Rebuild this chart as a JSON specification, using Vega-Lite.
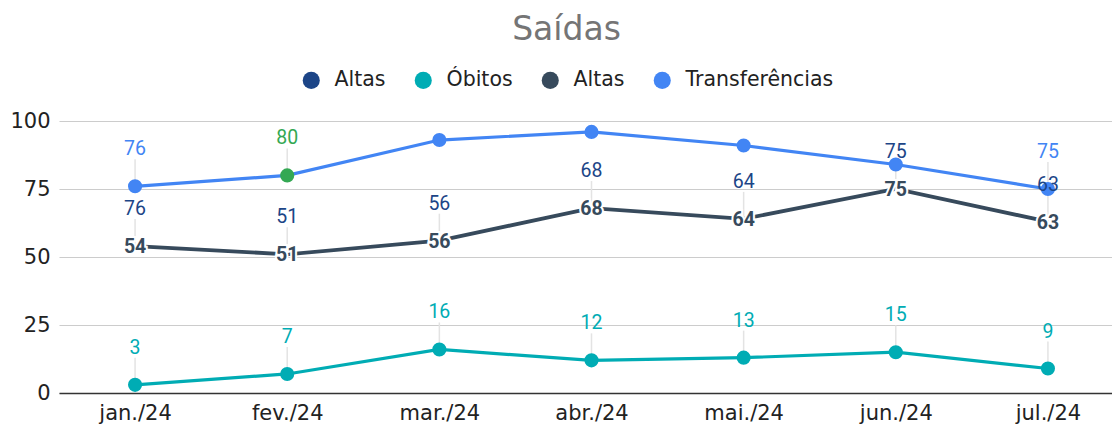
{
  "$schema": "https://vega.github.io/schema/vega-lite/v6.json",
  "width": 1065,
  "height": 272,
  "autosize": {"type": "none"},
  "padding": {"left": 59, "top": 121, "right": 0, "bottom": 34},
  "background": "white",
  "title": {"text": "Saídas", "fontSize": 33, "color": "#757575", "font": "DejaVu Sans", "fontWeight": "normal", "anchor": "middle", "offset": 23, "dx": -25},
  "config": {"view": {"stroke": null}, "font": "DejaVu Sans"},
  "data": {"values": [
    {"mes": "jan./24", "serie": "Transferências", "valor": 76, "rotulo": 76},
    {"mes": "fev./24", "serie": "Transferências", "valor": 80, "rotulo": 80},
    {"mes": "mar./24", "serie": "Transferências", "valor": 93, "rotulo": 93},
    {"mes": "abr./24", "serie": "Transferências", "valor": 96, "rotulo": 96},
    {"mes": "mai./24", "serie": "Transferências", "valor": 91, "rotulo": 91},
    {"mes": "jun./24", "serie": "Transferências", "valor": 84, "rotulo": 84},
    {"mes": "jul./24", "serie": "Transferências", "valor": 75, "rotulo": 75},
    {"mes": "jan./24", "serie": "Altas 2", "valor": 54, "rotulo": 54},
    {"mes": "fev./24", "serie": "Altas 2", "valor": 51, "rotulo": 51},
    {"mes": "mar./24", "serie": "Altas 2", "valor": 56, "rotulo": 56},
    {"mes": "abr./24", "serie": "Altas 2", "valor": 68, "rotulo": 68},
    {"mes": "mai./24", "serie": "Altas 2", "valor": 64, "rotulo": 64},
    {"mes": "jun./24", "serie": "Altas 2", "valor": 75, "rotulo": 75},
    {"mes": "jul./24", "serie": "Altas 2", "valor": 63, "rotulo": 63},
    {"mes": "jan./24", "serie": "Altas", "valor": 54, "rotulo": 76},
    {"mes": "fev./24", "serie": "Altas", "valor": 51, "rotulo": 51},
    {"mes": "mar./24", "serie": "Altas", "valor": 56, "rotulo": 56},
    {"mes": "abr./24", "serie": "Altas", "valor": 68, "rotulo": 68},
    {"mes": "mai./24", "serie": "Altas", "valor": 64, "rotulo": 64},
    {"mes": "jun./24", "serie": "Altas", "valor": 75, "rotulo": 75},
    {"mes": "jul./24", "serie": "Altas", "valor": 63, "rotulo": 63},
    {"mes": "jan./24", "serie": "Óbitos", "valor": 3, "rotulo": 3},
    {"mes": "fev./24", "serie": "Óbitos", "valor": 7, "rotulo": 7},
    {"mes": "mar./24", "serie": "Óbitos", "valor": 16, "rotulo": 16},
    {"mes": "abr./24", "serie": "Óbitos", "valor": 12, "rotulo": 12},
    {"mes": "mai./24", "serie": "Óbitos", "valor": 13, "rotulo": 13},
    {"mes": "jun./24", "serie": "Óbitos", "valor": 15, "rotulo": 15},
    {"mes": "jul./24", "serie": "Óbitos", "valor": 9, "rotulo": 9}
  ]},
  "encoding": {
    "x": {
      "field": "mes", "type": "ordinal",
      "sort": ["jan./24", "fev./24", "mar./24", "abr./24", "mai./24", "jun./24", "jul./24"],
      "scale": {"type": "point", "padding": 0.5},
      "axis": {"title": null, "labelAngle": 0, "labelFontSize": 21, "labelFont": "DejaVu Sans", "labelColor": "#222222", "ticks": false, "labelPadding": 9, "domain": true, "domainColor": "#333333", "domainWidth": 1.5, "grid": false}
    },
    "y": {
      "field": "valor", "type": "quantitative",
      "scale": {"domain": [0, 100]},
      "axis": {"title": null, "values": [0, 25, 50, 75, 100], "labelFontSize": 21, "labelFont": "DejaVu Sans", "labelColor": "#222222", "ticks": false, "domain": false, "labelPadding": 9, "gridColor": "#cccccc", "gridWidth": 1.2}
    }
  },
  "layer": [
    {
      "transform": [{"filter": "datum.serie == 'Óbitos' || datum.serie == 'Altas' || (datum.serie == 'Transferências' && indexof(['jan./24','fev./24','jul./24'], datum.mes) >= 0)"}],
      "mark": {"type": "rule", "y2Offset": -27, "color": "#e3e3e3", "strokeWidth": 1.5},
      "encoding": {"y2": {"field": "valor"}}
    },
    {
      "transform": [{"filter": "datum.serie != 'Altas'"}],
      "mark": {"type": "line"},
      "encoding": {
        "strokeWidth": {"condition": {"test": "datum.serie == 'Altas 2'", "value": 3.8}, "value": 3.2},
        "color": {
          "field": "serie", "type": "nominal",
          "scale": {"domain": ["Altas", "Óbitos", "Altas 2", "Transferências"], "range": ["#1c4587", "#00acb4", "#374a5c", "#4285f4"]},
          "legend": {
            "orient": "none", "legendX": 242, "legendY": -51, "direction": "horizontal", "title": null,
            "symbolType": "circle", "symbolSize": 290, "symbolStrokeWidth": 0, "symbolOpacity": 1,
            "labelFontSize": 20.5, "labelFont": "DejaVu Sans", "labelColor": "#222222", "labelOffset": 13, "columnPadding": 27,
            "labelExpr": "datum.label == 'Altas 2' ? 'Altas' : datum.label",
            "encode": {"symbols": {"update": {"fill": {"scale": "color", "field": "value"}}}}
          }
        }
      }
    },
    {
      "transform": [{"filter": "datum.serie == 'Óbitos' || datum.serie == 'Transferências'"}],
      "mark": {"type": "point", "filled": true, "size": 200, "opacity": 1},
      "encoding": {
        "color": {"condition": {"test": "datum.serie == 'Transferências' && datum.mes == 'fev./24'", "value": "#34a853"}, "field": "serie", "type": "nominal"}
      }
    },
    {
      "transform": [{"filter": "datum.serie == 'Óbitos' || datum.serie == 'Altas' || (datum.serie == 'Transferências' && indexof(['jan./24','fev./24','jul./24'], datum.mes) >= 0)"}],
      "mark": {"type": "text", "dy": -37, "fontSize": 19.5, "font": "Roboto", "baseline": "middle"},
      "encoding": {
        "text": {"field": "rotulo", "type": "quantitative"},
        "color": {"condition": {"test": "datum.serie == 'Transferências' && datum.mes == 'fev./24'", "value": "#34a853"}, "field": "serie", "type": "nominal"}
      }
    },
    {
      "transform": [{"filter": "datum.serie == 'Altas 2'"}],
      "mark": {"type": "text", "dy": 1, "fontSize": 19.5, "font": "Roboto", "fontWeight": "bold", "baseline": "middle", "fill": "white", "stroke": "white", "strokeWidth": 4},
      "encoding": {"text": {"field": "rotulo", "type": "quantitative"}}
    },
    {
      "transform": [{"filter": "datum.serie == 'Altas 2'"}],
      "mark": {"type": "text", "dy": 1, "fontSize": 19.5, "font": "Roboto", "fontWeight": "bold", "baseline": "middle", "fill": "#374a5c"},
      "encoding": {"text": {"field": "rotulo", "type": "quantitative"}}
    }
  ]
}
